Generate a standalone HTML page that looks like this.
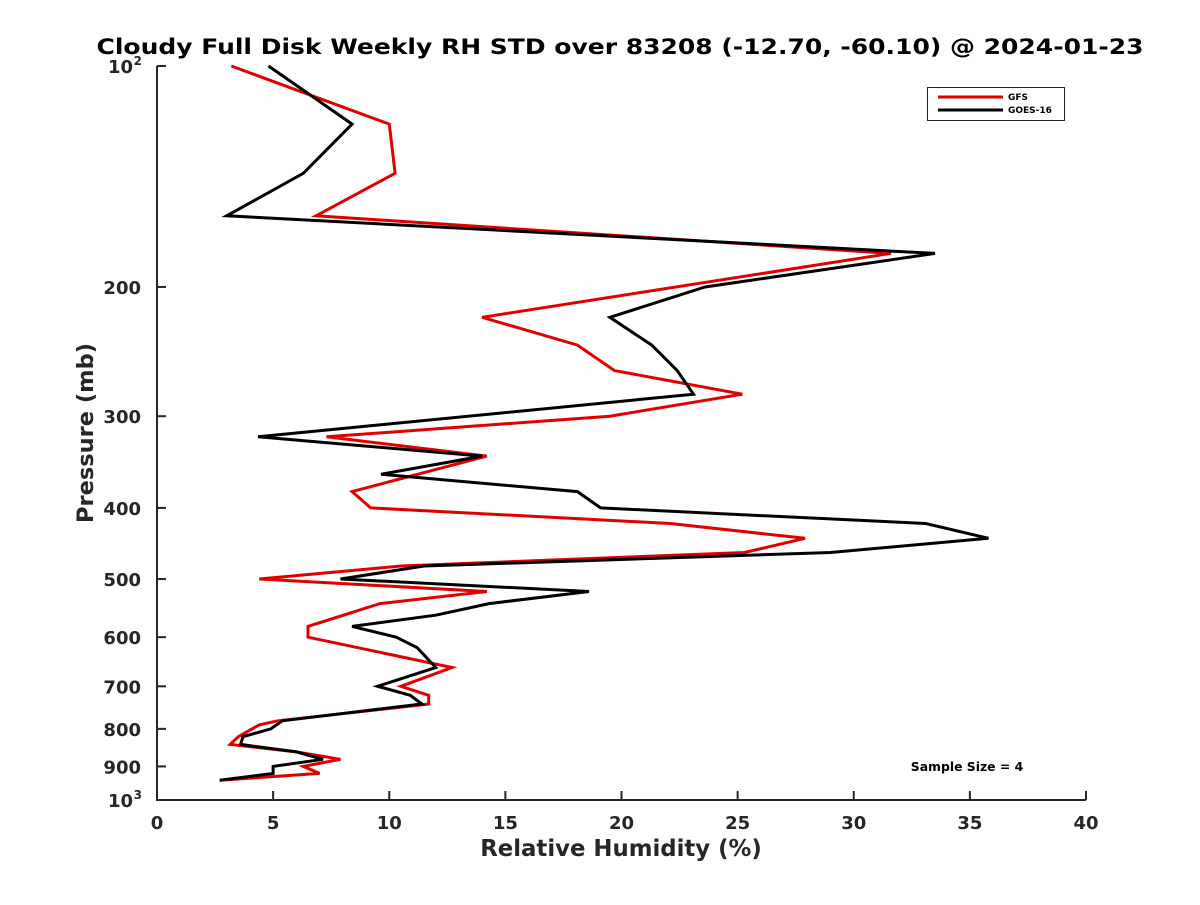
<!DOCTYPE html>
<html><head><meta charset="utf-8"><style>
body{margin:0;background:#fff}
svg text{font-family:"DejaVu Sans","Liberation Sans",sans-serif;font-weight:bold;fill:#262626}
</style></head><body>
<svg id="chart" width="1200" height="900" viewBox="0 0 1200 900" xmlns="http://www.w3.org/2000/svg">
<rect width="1200" height="900" fill="#fff"/>
<text x="620" y="54" text-anchor="middle" font-size="21" textLength="1047" lengthAdjust="spacingAndGlyphs" style="fill:#000">Cloudy Full Disk Weekly RH STD over 83208 (-12.70, -60.10) @ 2024-01-23</text>
<g id="axes"></g>
<g id="series"></g>
<g>
<rect x="927.5" y="87.5" width="137" height="33" fill="#fff" stroke="#262626" stroke-width="1"/>
<line x1="938" y1="97" x2="1003" y2="97" stroke="#e00000" stroke-width="3"/>
<text x="1008" y="100" font-size="9" style="fill:#000">GFS</text>
<line x1="938" y1="110" x2="1003" y2="110" stroke="#000" stroke-width="3"/>
<text x="1008" y="113" font-size="9" style="fill:#000">GOES-16</text>
</g>
<text x="967" y="771" text-anchor="middle" font-size="12.4" style="fill:#000">Sample Size = 4</text>
<text x="621" y="856" text-anchor="middle" font-size="22.8">Relative Humidity (%)</text>
<text transform="translate(93,433) rotate(-90)" text-anchor="middle" font-size="22.5">Pressure (mb)</text>
</svg>
<script>
const xTicks=[0,5,10,15,20,25,30,35,40];
const yTicks=[100,200,300,400,500,600,700,800,900,1000];
const yTickLabels=["10","200","300","400","500","600","700","800","900","10"];
const yTickSup=["2","","","","","","","","","3"];
const gfsPressure=[100,120,140,160,180,220,240,260,280,300,320,340,380,400,420,440,460,480,500,520,540,580,600,660,700,720,740,780,790,820,840,860,880,900,920,940];
const gfsRH=[3.2,10.0,10.25,6.85,31.6,14.0,18.1,19.7,25.2,19.5,7.3,14.2,8.4,9.2,22.1,27.9,25.3,10.5,4.4,14.2,9.6,6.5,6.5,12.7,10.5,11.7,11.7,5.2,4.4,3.5,3.15,6.0,7.9,6.3,7.0,2.7];
const goesPressure=[100,120,140,160,180,200,220,240,260,280,320,340,360,380,400,420,440,460,480,500,520,540,560,580,600,620,660,700,720,740,780,800,820,840,860,880,900,920,940];
const goesRH=[4.8,8.4,6.3,3.0,33.5,23.6,19.5,21.3,22.4,23.1,4.35,14.0,9.65,18.1,19.1,33.1,35.8,29.0,11.5,7.9,18.6,14.3,12.0,8.4,10.3,11.2,12.0,9.5,10.9,11.4,5.4,4.9,3.7,3.6,6.0,7.15,5.0,5.0,2.7];
const X0=157,X1=1086,Y0=66,Y1=800;
const xs=v=>X0+(v-0)/(40-0)*(X1-X0);
const ys=p=>Y0+(Math.log10(p)-2)*(Y1-Y0);
const NS="http://www.w3.org/2000/svg";
function mk(t,a,parent){const e=document.createElementNS(NS,t);for(const k in a)e.setAttribute(k,a[k]);parent.appendChild(e);return e;}
const axes=document.getElementById('axes');
const yAxis=mk('line',{x1:X0,y1:Y0,x2:X0,y2:Y1,stroke:'#262626','stroke-width':2},axes);


const xAxis=mk('line',{x1:X0-1,y1:Y1,x2:X1,y2:Y1,stroke:'#262626','stroke-width':2},axes);


xTicks.forEach(v=>{
 const t=mk('line',{x1:xs(v),y1:Y1,x2:xs(v),y2:Y1-9,stroke:'#262626','stroke-width':2},axes);
 
 
 const l=mk('text',{x:xs(v),y:Y1+29,'text-anchor':'middle','font-size':18},axes);
 l.textContent=String(v);
 
 
});
yTicks.forEach((p,i)=>{
 const t=mk('line',{x1:X0,y1:ys(p),x2:X0+9,y2:ys(p),stroke:'#262626','stroke-width':2},axes);
 
 
 const sup=yTickSup[i];
 const l=mk('text',{x:sup?X0-24:X0-16,y:ys(p)+7,'text-anchor':'end','font-size':18},axes);
 l.textContent=yTickLabels[i];
 
 
 if(sup){
  const s=mk('text',{x:X0-15,y:ys(p)-1,'text-anchor':'end','font-size':12},axes);
  s.textContent=sup;
  
  
 }
});
const ser=document.getElementById('series');
function line(P,V,color,name){
 const pts=P.map((p,i)=>xs(V[i]).toFixed(1)+','+ys(p).toFixed(1)).join(' ');
 const e=mk('polyline',{points:pts,fill:'none',stroke:color,'stroke-width':3,'stroke-linejoin':'miter'},ser);
 
 
}
line(gfsPressure,gfsRH,'#e00000','gfs-line');
line(goesPressure,goesRH,'#000000','goes16-line');
</script>
</body></html>
